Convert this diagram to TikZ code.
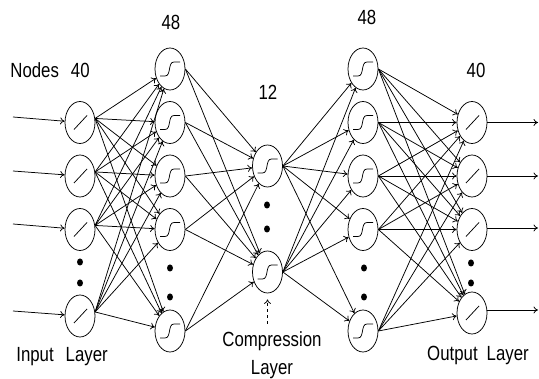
\documentclass[tikz,border=0pt]{standalone}
\usepackage{fontspec}
\setmainfont{Liberation Sans}[FakeStretch=0.82]
\usetikzlibrary{shapes.geometric,arrows.meta}
\begin{document}
\begin{tikzpicture}[x=1pt,y=-1pt,
  line width=0.75pt,
  neuron/.style={draw,ellipse,minimum width=30pt,minimum height=42pt,inner sep=0pt},
  lin/.style={neuron,path picture={\draw ([shift={(-6,7)}]path picture bounding box.center) -- ++(13,-14);}},
  sig/.style={neuron,path picture={\draw ([shift={(-10,7)}]path picture bounding box.center) -- ++(5,0) to[out=0,in=180] ++(9,-14) -- ++(6,0);}},
  conn/.style={-{To[length=4.5pt,width=7pt]}},
  bigdot/.style={fill,ellipse,minimum width=6pt,minimum height=7pt,inner sep=0pt},
  lbl/.style={font=\fontsize{20.5}{28}\selectfont,inner sep=0pt,align=center}
]
\useasboundingbox (0,0) rectangle (539,379);

% input layer
\node[lin] (i1) at (80,122.5) {};
\node[lin] (i2) at (80,176) {};
\node[lin] (i3) at (80,229.5) {};
\node[lin] (i4) at (80,316) {};
\node[bigdot] (id1) at (80,262) {};
\node[bigdot] (id2) at (80,283) {};

% hidden layer 1
\node[sig] (h1) at (170,69) {};
\node[sig] (h2) at (170,122.5) {};
\node[sig] (h3) at (170,176) {};
\node[sig] (h4) at (170,229.5) {};
\node[sig] (h5) at (170,331) {};
\node[bigdot] (hd1) at (170,268) {};
\node[bigdot] (hd2) at (170,297) {};

% compression layer
\node[sig] (c1) at (267.5,166) {};
\node[sig] (c2) at (267.5,272) {};
\node[bigdot] (cd1) at (267,205) {};
\node[bigdot] (cd2) at (267,229) {};

% hidden layer 2
\node[sig] (g1) at (363,69) {};
\node[sig] (g2) at (363,122.5) {};
\node[sig] (g3) at (363,176) {};
\node[sig] (g4) at (363,229.5) {};
\node[sig] (g5) at (363,331) {};
\node[bigdot] (gd1) at (364,268) {};
\node[bigdot] (gd2) at (364,297) {};

% output layer
\node[lin] (o1) at (472,122.5) {};
\node[lin] (o2) at (472,176) {};
\node[lin] (o3) at (472,229.5) {};
\node[lin] (o4) at (472,313) {};
\node[bigdot] (od1) at (471,263) {};
\node[bigdot] (od2) at (471,283) {};

% connections
\foreach \a in {1,...,4} \foreach \b in {1,...,5} \draw[conn] (i\a.15) -- (h\b);
\foreach \a in {1,...,5} \foreach \b in {1,2} \draw[conn] (h\a.east) -- (c\b);
\foreach \a in {1,2} \foreach \b in {1,...,5} \draw[conn] (c\a.east) -- (g\b);
\foreach \a in {1,...,5} \foreach \b in {1,...,4} \draw[conn] (g\a.east) -- (o\b);

% inputs and outputs
\coordinate (x1) at (13,117);
\coordinate (x2) at (13,171);
\coordinate (x3) at (13,224);
\coordinate (x4) at (13,311);
\foreach \a in {1,...,4} \draw[conn] (x\a) -- (i\a);
\coordinate (y1) at (538,122.5);
\coordinate (y2) at (538,176);
\coordinate (y3) at (538,228);
\coordinate (y4) at (538,310);
\foreach \a in {1,...,4} \draw[conn] (o\a.east |- y\a) -- (y\a);

% labels
\node[lbl,anchor=west] (tnodes) at (10,70) {Nodes\hspace{12pt}40};
\node[lbl] (t48a) at (171,22) {48};
\node[lbl] (t12) at (268,92) {12};
\node[lbl] (t48b) at (367,17) {48};
\node[lbl] (t40) at (476,70) {40};
\node[lbl,anchor=west] (tin) at (16,357) {Input\hspace{12pt}Layer};
\node[lbl] (comp) at (272,355) {Compression\\Layer};
\node[lbl] (tout) at (478,355) {Output\hspace{9pt}Layer};

\coordinate (dt) at (267.5,324);
\draw[conn,dashed,shorten >=6pt] (dt) -- (c2.south);
\end{tikzpicture}
\end{document}
